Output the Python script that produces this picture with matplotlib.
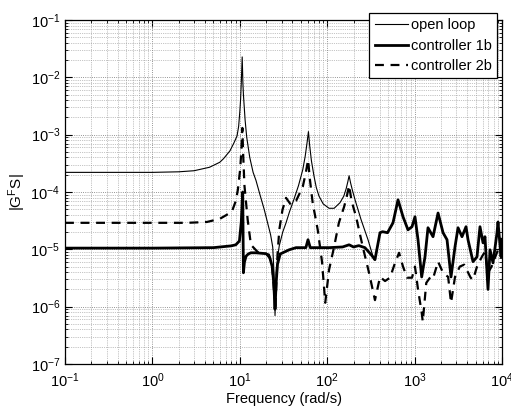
import matplotlib
matplotlib.use("Agg")
import matplotlib.pyplot as plt
from matplotlib.ticker import LogLocator, NullFormatter

plt.rcParams['font.family'] = ['Liberation Sans', 'DejaVu Sans']
plt.rcParams['mathtext.default'] = 'regular'

# values (rad/s, magnitude)
freq_open = [0.1, 0.5, 1, 2, 3, 4.5, 5.9, 6.5, 7.7, 8.5, 9.3, 9.7, 10.0, 10.2, 10.4,
             10.65, 10.85, 11.0, 11.5, 12, 13, 14.2, 15.3, 17, 19, 20.8, 22.5, 23.8,
             24.6, 25.3, 25.8, 27, 28.3, 31, 33.8, 37, 41.7, 47, 52.5, 56, 59, 61, 63,
             66, 70.6, 75, 80.5, 90, 105, 120, 140, 155, 165, 172, 178, 185, 195, 210,
             244, 293, 343]
mag_open = [2.2e-4, 2.2e-4, 2.2e-4, 2.25e-4, 2.35e-4, 2.7e-4, 3.3e-4, 3.8e-4, 5.2e-4,
            7e-4, 9.5e-4, 1.4e-3, 2.5e-3, 4e-3, 8e-3, 2.27e-2, 8e-3, 5e-3, 1.8e-3, 9e-4,
            4e-4, 2.2e-4, 1.6e-4, 9e-5, 5e-5, 2.9e-5, 1.8e-5, 1.1e-5, 4e-6, 7e-7, 2.5e-6,
            7e-6, 1.16e-5, 2e-5, 2.9e-5, 4.5e-5, 7.5e-5, 1.3e-4, 2.44e-4, 4.2e-4, 7.5e-4,
            1.13e-3, 6.5e-4, 3.5e-4, 1.9e-4, 1.2e-4, 8.5e-5, 6.2e-5, 5.2e-5, 5.2e-5,
            6.5e-5, 8.5e-5, 1.15e-4, 1.5e-4, 1.92e-4, 1.45e-4, 1.05e-4, 7e-5, 3.3e-5,
            1.47e-5, 6.6e-6]

freq_c1 = [0.1, 1, 5, 8, 9.0, 9.9, 10.4, 10.8, 11.0, 11.3, 11.8, 12.5, 13.4, 15.3, 20,
           22, 23.5, 24.5, 25.3, 26, 27, 29, 36.6, 44, 57, 60.3, 64, 80, 105, 150, 178,
           200, 230, 270, 320, 352, 402, 430, 490, 566, 646, 737, 840, 934, 1010, 1094,
           1205, 1315, 1423, 1625, 1855, 2116, 2350, 2610, 2900, 3140, 3485, 3875, 4085,
           4660, 5175, 5600, 6065, 6385, 6915, 7295, 7890, 8770, 9000, 9750, 10000]
mag_c1 = [1.05e-5, 1.05e-5, 1.07e-5, 1.15e-5, 1.2e-5, 1.4e-5, 3e-5, 1e-4, 3.9e-6, 6e-6,
          7.6e-6, 8.3e-6, 8.7e-6, 8.7e-6, 8.4e-6, 7.2e-6, 5e-6, 2.5e-6, 9e-7, 2.5e-6,
          5.5e-6, 8.3e-6, 9.8e-6, 1.07e-5, 1.07e-5, 1.47e-5, 1.07e-5, 1.07e-5, 1.07e-5,
          1.1e-5, 1.2e-5, 1.1e-5, 1.16e-5, 1.07e-5, 8e-6, 6.6e-6, 1.95e-5, 2.03e-5,
          1.95e-5, 2.9e-5, 7.3e-5, 3.7e-5, 2.19e-5, 2.48e-5, 3.7e-5, 1.47e-5, 3.3e-6,
          7.4e-6, 2.38e-5, 1.66e-5, 4.3e-5, 1.95e-5, 1.47e-5, 3.3e-6, 1.11e-5, 2.38e-5,
          1.66e-5, 2.48e-5, 1.47e-5, 6.1e-6, 7.4e-6, 2.48e-5, 1.3e-5, 1.66e-5, 2e-6,
          9.8e-6, 5.8e-6, 1.95e-5, 3e-5, 7.4e-6, 1.5e-5]

freq_c2 = [0.1, 1, 2.5, 4.2, 5.9, 8.1, 9.0, 9.5, 10.1, 10.4, 10.7, 10.9, 11.3, 12.3, 13.4,
           16, 21.5, 23.5, 25.5, 27, 28.3, 30.8, 33.8, 38.4, 44, 52.5, 57, 60.5, 63, 68.2,
           77.9, 87.2, 95, 105, 120, 136, 156, 168, 178, 190, 214, 255, 301, 352, 402,
           459, 523, 597, 664, 737, 820, 934, 1010, 1094, 1205, 1240, 1360, 1520, 1625,
           1855, 2116, 2420, 2610, 2900, 3290, 3690, 4380, 4660, 5175, 5880, 6385, 6915,
           7600, 8300, 9000, 10000]
mag_c2 = [2.9e-5, 2.9e-5, 2.9e-5, 3.0e-5, 3.4e-5, 4.5e-5, 7e-5, 1.09e-4, 2.5e-4, 5e-4,
          1.31e-3, 5e-4, 1.3e-4, 3.3e-5, 1.2e-5, 9e-6, 8.1e-6, 5e-6, 8.9e-7, 8e-6,
          2.19e-5, 4.9e-5, 7.9e-5, 6.0e-5, 7e-5, 1.23e-4, 2.2e-4, 3.64e-4, 1.8e-4, 6.5e-5,
          2.19e-5, 6.1e-6, 1.17e-6, 4.4e-6, 1.11e-5, 2.9e-5, 5.5e-5, 8.5e-5, 1.3e-4, 7e-5,
          3.7e-5, 1.11e-5, 3.9e-6, 1.3e-6, 3.3e-6, 2.8e-6, 3.2e-6, 5.8e-6, 8.7e-6, 5e-6,
          3.2e-6, 3.2e-6, 5e-6, 2e-6, 7.9e-7, 5.5e-7, 2.6e-6, 3.3e-6, 3.1e-6, 6.1e-6,
          3.9e-6, 3.3e-6, 1.17e-6, 3.3e-6, 5e-6, 5.4e-6, 3.2e-6, 2.95e-6, 5e-6, 7.4e-6,
          9.1e-6, 3.9e-6, 5e-6, 7.1e-6, 9.8e-6, 1.1e-5]

# above ~350 rad/s the open loop lies under controller 1b
freq_open_full = freq_open + [f for f in freq_c1 if f > 345]
mag_open_full = mag_open + [m for f, m in zip(freq_c1, mag_c1) if f > 345]

fig = plt.figure(figsize=(5.11, 4.12), dpi=100)
ax = fig.add_axes([65 / 511, 1 - 364 / 412, 437 / 511, 344 / 412])

ax.loglog(freq_open_full, mag_open_full, color='black', lw=0.8, label='open loop')
ax.loglog(freq_c1, mag_c1, color='black', lw=2.0, label='controller 1b')
ax.loglog(freq_c2, mag_c2, color='black', lw=1.6, ls=(0, (4, 3)), label='controller 2b')

ax.set_xlim(0.1, 1e4)
ax.set_ylim(1e-7, 1e-1)
ax.xaxis.set_major_locator(LogLocator(base=10, numticks=10))
ax.yaxis.set_major_locator(LogLocator(base=10, numticks=10))
ax.xaxis.set_minor_locator(LogLocator(base=10, subs=range(2, 10), numticks=100))
ax.yaxis.set_minor_locator(LogLocator(base=10, subs=range(2, 10), numticks=100))
ax.xaxis.set_minor_formatter(NullFormatter())
ax.yaxis.set_minor_formatter(NullFormatter())

ax.grid(True, which='major', color='0.45', ls=':', lw=0.6)
ax.grid(True, which='minor', color='0.55', ls=':', lw=0.5)
ax.tick_params(which='both', direction='in', top=True, right=True, labelsize=10.5)
ax.tick_params(axis='x', which='major', pad=5)
ax.tick_params(which='major', length=5)
ax.tick_params(which='minor', length=2.5)
for s in ax.spines.values():
    s.set_linewidth(0.9)

ax.set_xlabel('Frequency (rad/s)', fontsize=10.5, labelpad=2)
ax.set_ylabel('|G$^{F}$S|', fontsize=11, labelpad=2)

leg = ax.legend(loc='upper right', bbox_to_anchor=(497 / 511, 1 - 13 / 412),
                bbox_transform=fig.transFigure, borderaxespad=0, fontsize=10.5,
                fancybox=False, framealpha=1, edgecolor='black', handlelength=2.3,
                handletextpad=0.2, borderpad=0.35, labelspacing=0.45)
leg.get_frame().set_linewidth(0.9)

fig.savefig('out.png', dpi=100)
